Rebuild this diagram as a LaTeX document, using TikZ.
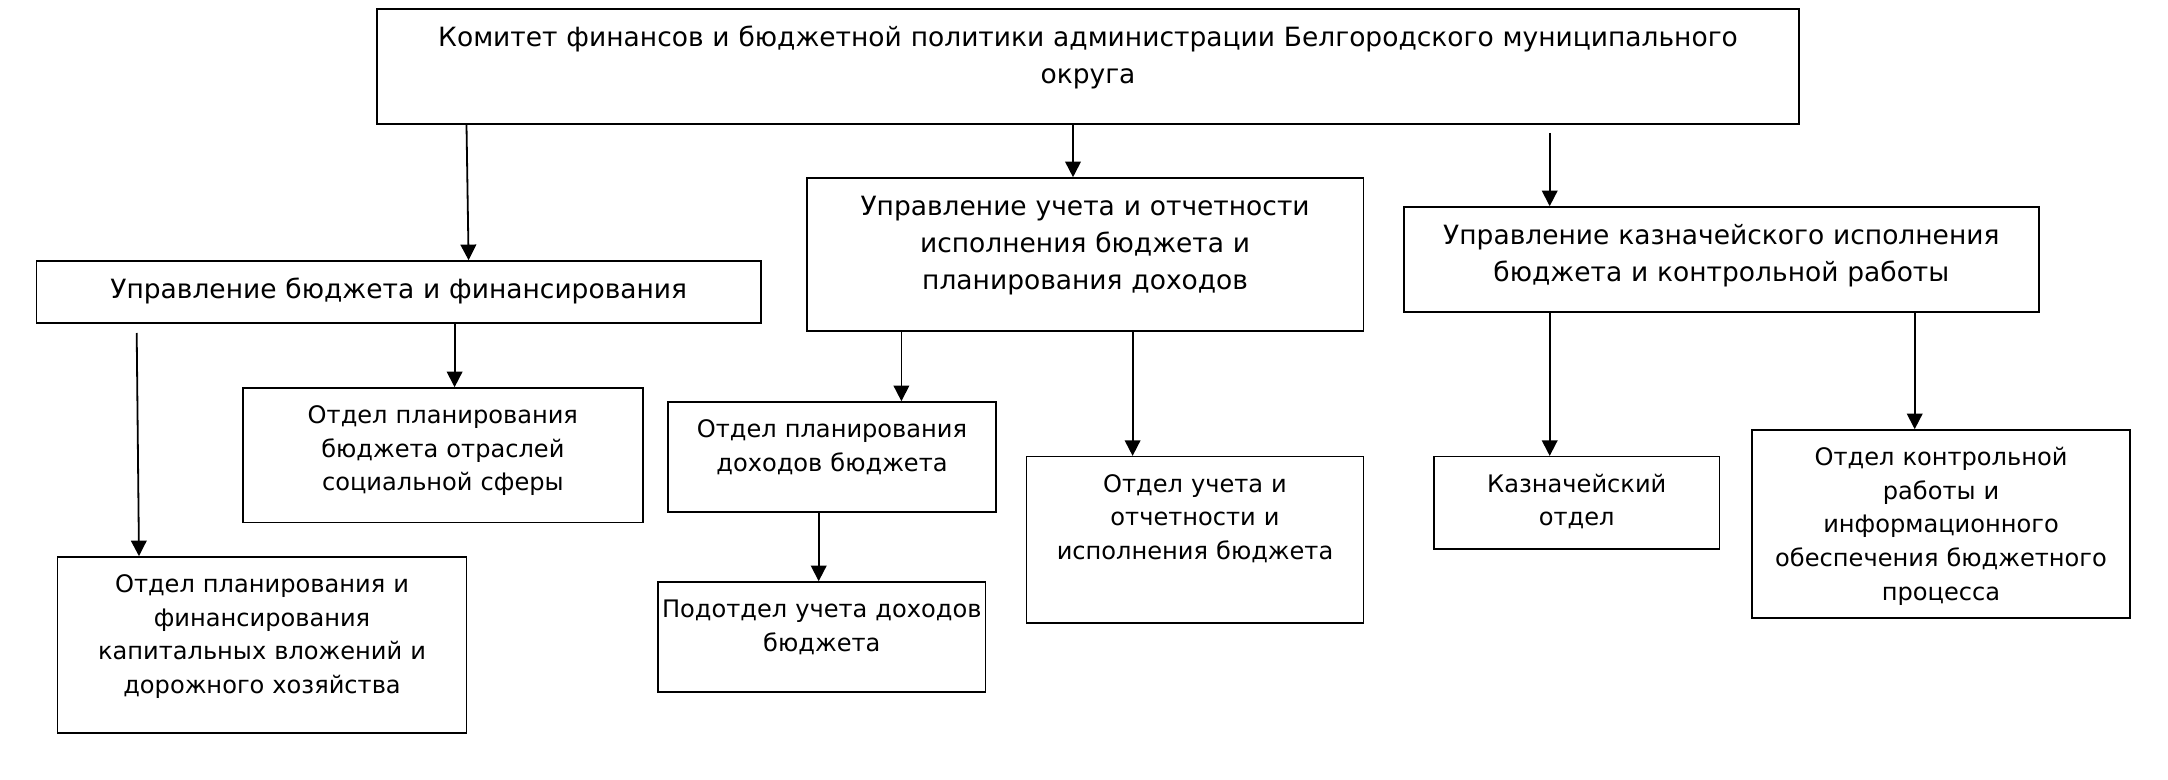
\documentclass[tikz,border=0pt]{standalone}
\usepackage{fontspec}
\setmainfont{DejaVu Sans}
\usetikzlibrary{arrows.meta,calc,positioning}

\begin{document}
\begin{tikzpicture}[x=0.5pt,y=-0.5pt,>={Triangle[length=7.8pt,width=7.8pt]},
  box/.style={draw,line width=0.8pt,inner sep=0pt,align=center},
  upr/.style={box,font=\fontsize{13.25}{18.5}\selectfont,text height=18.75pt},
  otd/.style={box,font=\fontsize{12.05}{16.85}\selectfont,text height=17.75pt},
  arr/.style={->,line width=0.9pt}]
  \useasboundingbox (0,0) rectangle (2168,780);
  % top level
  \node[upr,text width=711pt,text depth=38.75pt] (kom) at (1088,66.5) {Комитет финансов и бюджетной политики администрации Белгородского муниципального\\округа};
  % managements
  \node[upr,text width=362.25pt,text depth=12.25pt] (upb) at (398.75,292) {Управление бюджета и финансирования};
  \node[upr,text width=278.4pt,text depth=57.75pt] (upu) at (1085.1,254.5) {Управление учета и отчетности\\исполнения бюджета и\\планирования доходов};
  \node[upr,text width=317.65pt,text depth=33.75pt] (upk) at (1721.35,259.5) {Управление казначейского исполнения\\бюджета и контрольной работы};
  % departments
  \node[otd,text width=200.15pt,text depth=49.5pt] (otr) at (442.85,455.25) {Отдел планирования\\бюджета отраслей\\социальной сферы};
  \node[otd,text width=204.5pt,text depth=70.25pt] (kap) at (262,645) {Отдел планирования и\\финансирования\\капитальных вложений и\\дорожного хозяйства};
  \node[otd,text width=164pt,text depth=37.1pt] (doh) at (832,456.85) {Отдел планирования\\доходов бюджета};
  \node[otd,text width=163.8pt,text depth=37.25pt] (pod) at (821.8,637) {Подотдел учета доходов\\бюджета};
  \node[otd,text width=168.5pt,text depth=65.4pt] (uch) at (1195,539.85) {Отдел учета и\\отчетности и\\исполнения бюджета};
  \node[otd,text width=142.75pt,text depth=28.4pt] (kaz) at (1576.75,502.85) {Казначейский\\отдел};
  \node[otd,text width=189pt,text depth=76.25pt] (kon) at (1941,524) {Отдел контрольной\\работы и\\информационного\\обеспечения бюджетного\\процесса};
  % free line ends
  \coordinate (s1) at (1549.7,133);
  \coordinate (s2) at (136.7,333);
  % connectors
  \draw[arr] (kom.south -| 466.5,0) -- (upb.north -| 468.6,0);
  \draw[arr] (kom.south -| 1073,0) -- (upu.north -| 1073,0);
  \draw[arr] (s1) -- (upk.north -| s1);
  \draw[arr] (upb.south -| 454.6,0) -- (otr.north -| 454.6,0);
  \draw[arr] (s2) -- (kap.north -| 139,0);
  \draw[arr] (upu.south -| 901.4,0) -- (doh.north -| 901.4,0);
  \draw[arr] (upu.south -| 1132.6,0) -- (uch.north -| 1132.6,0);
  \draw[arr] (doh.south -| 818.7,0) -- (pod.north -| 818.7,0);
  \draw[arr] (upk.south -| 1549.7,0) -- (kaz.north -| 1549.7,0);
  \draw[arr] (upk.south -| 1914.7,0) -- (kon.north -| 1914.7,0);
\end{tikzpicture}
\end{document}
